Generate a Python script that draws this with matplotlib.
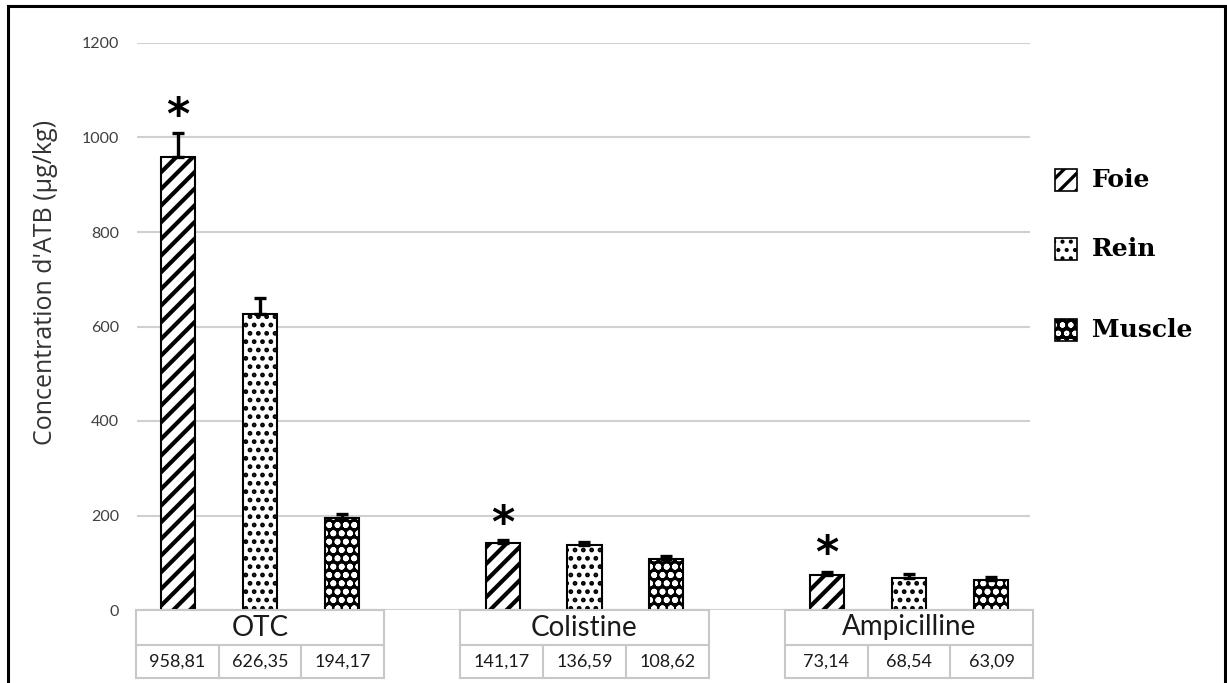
import numpy as np
import matplotlib.pyplot as plt
from matplotlib.patches import Rectangle
from matplotlib.transforms import blended_transform_factory

antibiotics = ["OTC", "Colistine", "Ampicilline"]
tissues = ["Foie", "Rein", "Muscle"]
foie = [958.81, 141.17, 73.14]
rein = [626.35, 136.59, 68.54]
muscle = [194.17, 108.62, 63.09]
err_foie = [50, 7, 7]
err_rein = [34, 7, 7]
err_muscle = [10, 6, 6]
value_labels = [["958,81", "626,35", "194,17"],
                ["141,17", "136,59", "108,62"],
                ["73,14", "68,54", "63,09"]]
star_y = [1045, 180, 117]

plt.rcParams['font.family'] = ['Lato', 'DejaVu Sans']

# hatch style per tissue: (hatch, face, hatch colour, hatch linewidth)
styles = [('//', 'white', 'black', 3.0),
          ('..', 'white', 'black', 2.2),
          ('oo', 'black', 'white', 1.8)]


def hatched_bar(ax, pos, vals, style):
    hatch, face, hcol, hlw = style
    with plt.rc_context({'hatch.linewidth': hlw}):
        ax.bar(pos, vals, width, color=face, edgecolor=hcol, hatch=hatch,
               linewidth=0, zorder=3)
    ax.bar(pos, vals, width, fill=False, edgecolor='black', linewidth=1.5, zorder=4)


fig = plt.figure(figsize=(12.27, 6.83), dpi=100)
ax = fig.add_axes([137/1227, 1 - 610/683, (1030 - 137)/1227, (610 - 43)/683])

x = np.arange(len(antibiotics))
offset = 0.252
width = 0.105
series = [(foie, err_foie), (rein, err_rein), (muscle, err_muscle)]

for i, ((vals, errs), st) in enumerate(zip(series, styles)):
    pos = x + (i - 1) * offset
    hatched_bar(ax, pos, vals, st)
    ax.errorbar(pos, vals, yerr=[np.zeros(len(errs)), errs], fmt='none',
                ecolor='black', elinewidth=2.4, capsize=4.5, capthick=2.4, zorder=5)

# significance stars over the Foie bars
for xi, sy in zip(x - offset, star_y):
    ax.text(xi, sy, "*", ha='center', va='center', fontsize=32, fontweight='bold',
            family='DejaVu Sans', color='black')

ax.set_xlim(-0.379, 2.373)
ax.set_ylim(0, 1200)
ax.set_yticks(range(0, 1201, 200))
ax.grid(axis='y', color='#d0d0d0', linewidth=1.5, zorder=0)
ax.tick_params(axis='y', length=0, pad=13, labelsize=11.5, labelcolor='#404040')
ax.tick_params(axis='x', bottom=False, labelbottom=False)
for s in ax.spines.values():
    s.set_visible(False)
ax.set_ylabel("Concentration d'ATB (µg/kg)", fontsize=18, color='#333333',
              family='Open Sans')
ax.yaxis.set_label_coords(-0.089, 0.578)

# data table under the bars
tr = blended_transform_factory(ax.transData, ax.transAxes)
h1 = 35 / 567
h2 = 68 / 567
half = 0.383
for xi, name, labs in zip(x, antibiotics, value_labels):
    kw = dict(transform=tr, color='#c8c8c8', linewidth=1.5, clip_on=False, zorder=6)
    ax.plot([xi - half, xi + half], [0, 0], **kw)
    ax.plot([xi - half, xi + half], [-h1, -h1], **kw)
    ax.plot([xi - half, xi + half], [-h2, -h2], **kw)
    ax.plot([xi - half, xi - half], [0, -h2], **kw)
    ax.plot([xi + half, xi + half], [0, -h2], **kw)
    for k in (1, 2):
        xd = xi - half + k * 2 * half / 3
        ax.plot([xd, xd], [-h1, -h2], **kw)
    ax.text(xi, -h1 / 2, name, transform=tr, ha='center', va='center',
            fontsize=20, color='#1a1a1a')
    for k, lab in enumerate(labs):
        xc = xi - half + (k + 0.5) * 2 * half / 3
        ax.text(xc, -(h1 + h2) / 2, lab, transform=tr, ha='center', va='center',
                fontsize=13, color='#1a1a1a')

# legend on the right, drawn by hand
legend_y = [180, 249, 330]
for name, st, ly in zip(tissues, styles, legend_y):
    hatch, face, hcol, hlw = st
    box = (1055/1227, 1 - (ly + 11)/683)
    bw, bh = 22/1227, 22/683
    with plt.rc_context({'hatch.linewidth': hlw * 0.8}):
        fig.add_artist(Rectangle(box, bw, bh, transform=fig.transFigure,
                                 facecolor=face, edgecolor=hcol, hatch=hatch, linewidth=0))
    fig.add_artist(Rectangle(box, bw, bh, transform=fig.transFigure,
                             fill=False, edgecolor='black', linewidth=1.2))
    fig.text(1092/1227, 1 - ly/683, name, ha='left', va='center', family='DejaVu Serif',
             fontweight='bold', fontsize=18)

# outer frame
fig.add_artist(Rectangle((8/1227, -0.05), (1225 - 8)/1227, 1.05 - 6/683,
                         transform=fig.transFigure, fill=False, edgecolor='black',
                         linewidth=2.2))

fig.savefig("out.png", dpi=100)
